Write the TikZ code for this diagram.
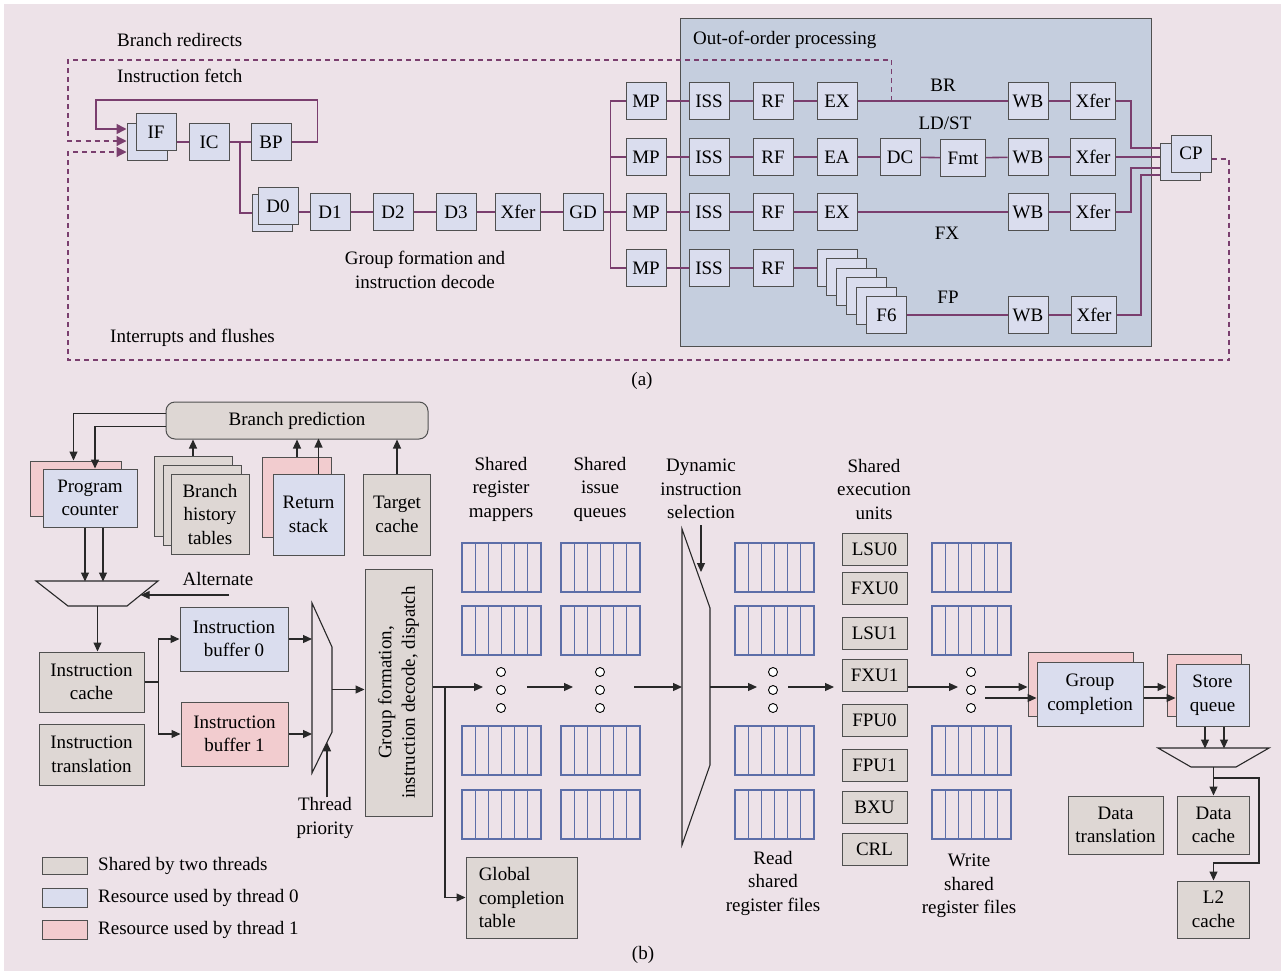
\documentclass[tikz,border=0pt]{standalone}
\usepackage{fontspec}
\setmainfont{Liberation Serif}
\usetikzlibrary{arrows.meta,calc}
\definecolor{bgpink}{RGB}{237,226,232}
\definecolor{oooblue}{RGB}{197,206,222}
\definecolor{boxblue}{RGB}{218,221,238}
\definecolor{boxgray}{RGB}{222,215,212}
\definecolor{boxpink}{RGB}{242,204,207}
\definecolor{purp}{RGB}{122,62,110}
\definecolor{rfblue}{RGB}{92,110,168}
\definecolor{edge}{RGB}{80,80,80}
\definecolor{darkline}{RGB}{40,40,40}
\begin{document}
\begin{tikzpicture}
  [x=1pt,y=-1pt,
   every node/.style={font=\fontsize{19}{23.5}\selectfont,inner sep=0pt,align=center},
   sz/.style 2 args={minimum width=#1pt,minimum height=#2pt},
   st/.style={draw=edge,line width=1pt,fill=boxblue,sz={40}{37}},
   wst/.style={st,sz={45}{37}},
   pl/.style={draw=purp,line width=1.6pt},
   pa/.style={pl,-{Triangle[length=10pt,width=10pt]}},
   da/.style={draw=purp,line width=1.2pt,dash pattern=on 5pt off 4pt,-{Triangle[length=10pt,width=10pt]}},
   ar/.style={draw=darkline,line width=1.1pt,-{Triangle[length=9pt,width=8pt]}},
   muxl/.style={draw=darkline,line width=1.1pt},
   gbox/.style={draw=edge,line width=1pt,fill=boxgray},
   bbox/.style={draw=edge,line width=1pt,fill=boxblue},
   pbox/.style={draw=edge,line width=1pt,fill=boxpink},
   eu/.style={gbox,sz={65}{32}},
   rf/.style={draw=rfblue,line width=1.1pt},
   dotc/.style={draw=black,fill=white,line width=0.9pt},
   lbl/.style={anchor=west}]
  \useasboundingbox (0,0) rectangle (1284,974);
  \fill[bgpink] (4,4) rectangle (1281,971);

  % (a)
  \node (ooo)[draw=edge,line width=1pt,fill=oooblue,sz={471}{327}] at (915.5,182.5) {};
  \node (tooo)[lbl] at (693,40) {Out-of-order processing};
  \node (tbr)[lbl] at (117,40) {Branch redirects};
  \node (tif)[lbl] at (117,76) {Instruction fetch};
  \node (tgf) at (425,270) {Group formation and\\instruction decode};
  \node (tint)[lbl] at (110,338) {Interrupts and flushes};
  \node (ta) at (642,381) {(a)};

  \node (IFb)[st] at (147,142) {};
  \node (IF)[st] at (156,132) {IF};
  \node (IC)[st] at (209,142) {IC};
  \node (BP)[st] at (271,142) {BP};
  \node (D0b)[st] at (272,213) {};
  \node (D0)[st] at (278,206) {D0};
  \node (D1)[st] at (330,212) {D1};
  \node (D2)[st] at (393,212) {D2};
  \node (D3)[st] at (456,212) {D3};
  \node (Xd)[wst] at (518,212) {Xfer};
  \node (GD)[st] at (583,212) {GD};

  \foreach \r/\y in {1/101,2/157,3/212,4/268} {
    \node (MP\r)[st] at (646,\y) {MP};
    \node (IS\r)[st] at (709,\y) {ISS};
    \node (RF\r)[st] at (773,\y) {RF};
  }
  \node (EX1)[st] at (837,101) {EX};
  \node (WB1)[st] at (1028,101) {WB};
  \node (X1)[wst] at (1093,101) {Xfer};
  \node (EA)[st] at (837,157) {EA};
  \node (DC)[st] at (900,157) {DC};
  \node (Fmt)[wst] at (963,158) {Fmt};
  \node (WB2)[st] at (1028,157) {WB};
  \node (X2)[wst] at (1093,157) {Xfer};
  \node (EX3)[st] at (837,212) {EX};
  \node (WB3)[st] at (1028,212) {WB};
  \node (X3)[wst] at (1093,212) {Xfer};
  \foreach \i in {1,...,5}
    \node (F\i)[st] at ({837+9.9*(\i-1)},{268+9.4*(\i-1)}) {};
  \node (F6)[st] at (886.5,315) {F6};
  \node (WB4)[st] at (1028,315) {WB};
  \node (X4)[wst] at (1094,315) {Xfer};
  \node (CPb)[st] at (1180,162) {};
  \node (CP)[st] at (1191,153.5) {CP};

  \node (tBR) at (943,85) {BR};
  \node (tLS) at (945,123) {LD/ST};
  \node (tFX) at (947,233) {FX};
  \node (tFP) at (948,297) {FP};

  \foreach \from/\to in {IC/BP,D1/D2,D2/D3,D3/Xd,Xd/GD,GD/MP3,
      MP1/IS1,IS1/RF1,RF1/EX1,EX1/WB1,WB1/X1,
      MP2/IS2,IS2/RF2,RF2/EA,EA/DC,DC/Fmt,Fmt/WB2,WB2/X2,
      MP3/IS3,IS3/RF3,RF3/EX3,EX3/WB3,WB3/X3,
      MP4/IS4,IS4/RF4,RF4/F1,F6/WB4,WB4/X4}
    \draw[pl] (\from) -- (\to);
  \draw[pl] (IC.west) -- (IC.west -| IF.east);
  \draw[pl] (D1.west) -- (D1.west -| D0.east);
  \draw[pl] ($(IC.east)!.5!(BP.west)$) |- (D0b.west);
  \draw[pl] (MP1.west) -- ++(-15,0) |- (MP4.west);
  \draw[pl] (MP2.west) -- ++(-15,0);
  \draw[pl] (X1.east) -- ++(15,0) |- ([yshift=14pt]CPb.west);
  \draw[pl] (X2.east) -- (X2.east -| CPb.west);
  \draw[pl] (X3.east) -- ++(15,0) |- ([yshift=-6pt]CPb.west);
  \draw[pl] (X4.east) -- ++(24,0) |- ([yshift=-13pt]CPb.west);
  \draw[pa] (BP.east) -- ++(26,0) |- (96,100) |- ([yshift=13pt]IFb.west);
  \coordinate (brtap) at ($(EX1.east)+(34,0)$);
  \draw[da] (brtap) |- (68,60) |- ([yshift=1pt]IFb.west);
  \draw[da] ([yshift=-5.5pt]CP.east) -| (1229,360) -| (68,152) -- ([yshift=-10pt]IFb.west);

  % (b)
  \node (bpr)[gbox,rounded corners=9pt,sz={262}{37}] at (297,420.5) {Branch prediction};
  \node (pcb)[pbox,sz={91}{55}] at (75.5,488.5) {};
  \node (pc)[bbox,sz={94}{58}] at (90,498) {Program\\counter};
  \node (bht1)[gbox,sz={78}{80}] at (193,496) {};
  \node (bht2)[gbox,sz={78}{80}] at (202,505) {};
  \node (bht3)[gbox,sz={78}{80}] at (210,514) {Branch\\history\\tables};
  \node (rsb)[pbox,sz={69}{80}] at (297,497) {};
  \node (rs)[bbox,sz={71}{81}] at (308.5,514.5) {Return\\stack};
  \node (tc)[gbox,sz={67}{81}] at (397,514.5) {Target\\cache};
  \draw[ar] ([yshift=7pt]bpr.west) -| ([xshift=-2pt]pcb.north);
  \draw[ar] ([yshift=-6pt]bpr.west) -| ([xshift=5pt]pc.north);
  \draw[ar] (bht1.north) -- (bht1.north |- bpr.south);
  \draw[ar] (rsb.north) -- (rsb.north |- bpr.south);
  \draw[ar] ($(rs.north)+(10,0)$) -- +(0,-35);
  \draw[ar] (tc.north) -- (tc.north |- bpr.south);

  \coordinate (m1a) at (36,581);
  \coordinate (m1b) at (158,581);
  \coordinate (m1c) at (127,606);
  \coordinate (m1d) at (68,606);
  \draw[muxl] (m1a) -- (m1b) -- (m1c) -- (m1d) -- cycle;
  \draw[ar] ($(pc.south)+(-5,0)$) -- +(0,54);
  \draw[ar] ($(pc.south)+(13,0)$) -- +(0,54);
  \node (alt) at (218,579) {Alternate};
  \coordinate (altin) at (229,595);
  \coordinate (m1r) at ($(m1b)!.56!(m1c)$);
  \draw[ar] (altin) -- (altin -| m1r);
  \coordinate (m1o) at ($(m1c)!.5!(m1d)$);

  \node (ic)[gbox,sz={105}{60}] at (91.5,682) {Instruction\\cache};
  \node (it)[gbox,sz={105}{61}] at (91.5,754.5) {Instruction\\translation};
  \node (ib0)[bbox,sz={108}{64}] at (234,639) {Instruction\\buffer 0};
  \node (ib1)[pbox,sz={107}{64}] at (234.5,734) {Instruction\\buffer 1};
  \draw[ar] (m1o) -- (m1o |- ic.north);
  \draw[ar] (ic.east) -- ++(14,0) |- (ib0.west);
  \draw[ar] (ic.east) -- ++(14,0) |- (ib1.west);

  \coordinate (t1) at (312,603);
  \coordinate (t2) at (332,647);
  \coordinate (t3) at (332,732);
  \coordinate (t4) at (312,773);
  \draw[muxl] (t1) -- (t2) -- (t3) -- (t4) -- cycle;
  \draw[ar] (ib0.east) -- (ib0.east -| t1);
  \draw[ar] (ib1.east) -- (ib1.east -| t1);
  \node (tpr) at (325,818) {Thread\\priority};
  \coordinate (tpm) at ($(t3)!.25!(t4)$);
  \draw[ar] (tpm |- tpr.north) -- (tpm);
  \coordinate (tmo) at ($(t2)!.5!(t3)$);

  \node (gf)[gbox,sz={67}{247}] at (398.5,692.5) {};
  \node (gft)[rotate=90] at (gf) {Group formation,\\instruction decode, dispatch};
  \draw[ar] (tmo) -- (tmo -| gf.west);
  \coordinate (mapin) at (483,687);
  \coordinate (gsplit) at (445,687);
  \draw[ar] (gf.east |- mapin) -- (mapin);
  \node (gct)[gbox,align=left,sz={111}{81}] at (521.5,897.5) {Global\\completion\\table};
  \draw[ar] (gsplit) |- (gct.west);

  \foreach \x in {462,561,735,932}
    \foreach \y in {543,606,726,790}
      \foreach \k in {0,...,5}
        \draw[rf] ({\x+\k*13.17},\y) rectangle ++(13.17,49);
  \foreach \x in {501,600,773,971}
    \foreach \y in {672,690,708}
      \draw[dotc] (\x,\y) circle (4.5);

  \node (tmap) at (501,489) {Shared\\register\\mappers};
  \node (tiss) at (600,489) {Shared\\issue\\queues};
  \node (tdyn) at (701,489) {Dynamic\\instruction\\selection};
  \node (texe) at (874,489) {Shared\\execution\\units};
  \node (trd) at (773,883) {Read\\shared\\register files};
  \node (twr) at (969,886) {Write\\shared\\register files};

  \coordinate (d1) at (682,529);
  \coordinate (d2) at (710,608);
  \coordinate (d3) at (710,765);
  \coordinate (d4) at (682,845);
  \draw[muxl] (d1) -- (d2) -- (d3) -- (d4) -- cycle;
  \coordinate (dsel) at (701,525);
  \draw[ar] (dsel) -- +(0,47);

  \foreach \n/\y in {LSU0/549,FXU0/588,LSU1/633,FXU1/675,FPU0/720.5,FPU1/765,BXU/807,CRL/849}
    \node (\n)[eu] at (874.5,\y) {\n};

  \coordinate (mapout) at (527,687);
  \coordinate (issin) at (573,687);
  \coordinate (issout) at (634,687);
  \coordinate (rdin) at (757,687);
  \coordinate (rdout) at (788,687);
  \coordinate (exin) at (834,687);
  \coordinate (wrin) at (958,687);
  \draw[ar] (mapout) -- (issin);
  \draw[ar] (issout) -- (issout -| d1);
  \draw[ar] (rdin -| d2) -- (rdin);
  \draw[ar] (rdout) -- (exin);
  \draw[ar] (FXU1.east |- wrin) -- (wrin);

  \node (gcb)[pbox,sz={105}{64}] at (1080.5,684) {};
  \node (gc)[bbox,sz={106}{64}] at (1090,694) {Group\\completion};
  \node (sqb)[pbox,sz={74}{62}] at (1204,685) {};
  \node (sq)[bbox,sz={73}{62}] at (1212.5,695) {Store\\queue};
  \coordinate (wo1) at (985,687);
  \coordinate (wo2) at (985,698);
  \draw[ar] (wo1) -- (wo1 -| gcb.west);
  \draw[ar] (wo2) -- (wo2 -| gc.west);
  \draw[ar] (gc.east |- wo1) -- (sqb.west |- wo1);
  \draw[ar] (gc.east |- wo2) -- (sq.west |- wo2);

  \coordinate (s1) at (1158,748);
  \coordinate (s2) at (1269,748);
  \coordinate (s3) at (1236,767);
  \coordinate (s4) at (1191,767);
  \draw[muxl] (s1) -- (s2) -- (s3) -- (s4) -- cycle;
  \draw[ar] ($(sq.south)+(-7.5,0)$) -- +(0,22);
  \draw[ar] ($(sq.south)+(11.5,0)$) -- +(0,22);
  \coordinate (s5) at ($(s3)!.5!(s4)$);
  \node (dt)[gbox,sz={95}{58}] at (1115.5,825) {Data\\translation};
  \node (dc)[gbox,sz={72}{58}] at (1213.5,825) {Data\\cache};
  \node (l2)[gbox,sz={72}{57}] at (1213.5,909.5) {L2\\cache};
  \draw[ar] (s5) -- (dc.north);
  \draw[ar] ($(s5)+(0,11)$) -| (1259,863) -| (l2.north);

  \node (lg0)[gbox,sz={45}{17}] at (64.5,866) {};
  \node (lg1)[bbox,sz={45}{19}] at (64.5,897.5) {};
  \node (lg2)[pbox,sz={45}{19}] at (64.5,929.5) {};
  \node (lt0)[lbl] at (98,866) {Shared by two threads};
  \node (lt1)[lbl] at (98,898) {Resource used by thread 0};
  \node (lt2)[lbl] at (98,930) {Resource used by thread 1};
  \node (tb) at (643,955) {(b)};
\end{tikzpicture}
\end{document}
